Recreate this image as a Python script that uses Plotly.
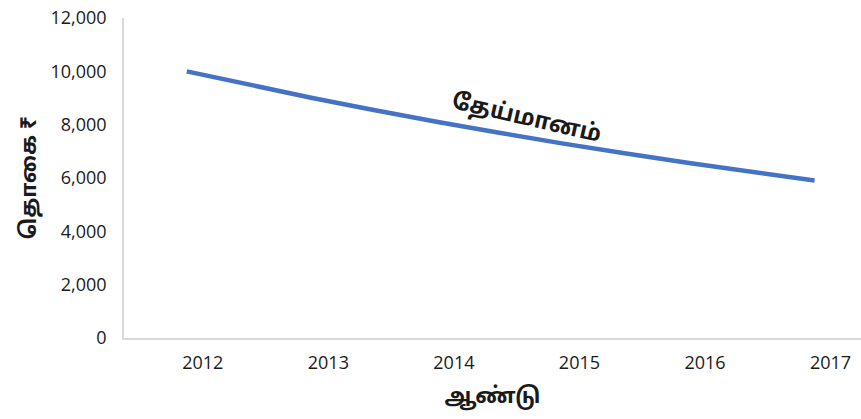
import plotly.graph_objects as go

years = [2012, 2013, 2014, 2015, 2016, 2017]
year_labels = ["2012", "2013", "2014", "2015", "2016", "2017"]
values = [10000, 9000, 8100, 7290, 6561, 5905]
y_ticks = [0, 2000, 4000, 6000, 8000, 10000, 12000]
series_label = "தேய்மானம்"
x_title = "ஆண்டு"
y_title = "தொகை ₹"

tamil_font = "Noto Sans Tamil, Noto Sans Tamil UI, Noto Serif Tamil, Lohit Tamil, Noto Sans, sans-serif"

fig = go.Figure()
fig.add_trace(go.Scatter(
    x=years, y=values, mode="lines",
    line=dict(color="#4472C4", width=4.5, shape="spline", smoothing=0.6),
    showlegend=False, hoverinfo="skip",
))

fig.add_annotation(
    x=2014.7, y=8200, xref="x", yref="y",
    text="<b>" + series_label + "</b>", showarrow=False, textangle=13,
    font=dict(size=23, color="#1a1a1a", family=tamil_font),
)

fig.update_layout(
    width=861, height=419,
    margin=dict(l=124, r=0, t=18, b=81),
    paper_bgcolor="white", plot_bgcolor="white",
    font=dict(family="Open Sans, Noto Sans, sans-serif", size=18, color="#1a1a1a"),
    xaxis=dict(
        range=[2011.5, 2017.37], tickvals=years, ticktext=year_labels,
        showgrid=False, zeroline=False, showline=True, linecolor="#d9d9d9", linewidth=1.5,
        ticks="", ticklabelshift=16, ticklabelstandoff=8,
        title=dict(text="<b>" + x_title + "</b>", font=dict(size=22, family=tamil_font), standoff=14),
    ),
    yaxis=dict(
        range=[0, 12000], tickvals=y_ticks, tickformat=",",
        showgrid=False, zeroline=False, showline=True, linecolor="#d9d9d9", linewidth=1.5,
        ticks="", ticklabelstandoff=12,
        title=dict(text="<b>" + y_title + "</b>", font=dict(size=22, family=tamil_font), standoff=8),
    ),
)

fig.write_html("out.html", config={"displayModeBar": False},
               post_script="document.body.style.margin='0';")
